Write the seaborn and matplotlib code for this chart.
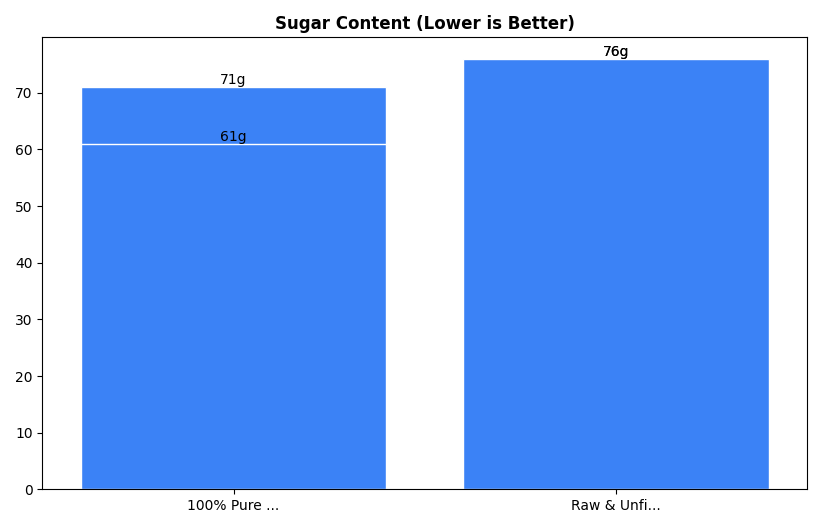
import matplotlib
matplotlib.use("Agg")
import matplotlib.pyplot as plt
import seaborn as sns
import pandas as pd

categories = ["100% Pure ...", "Raw & Unfi..."]
layer1 = [71, 76]
layer2 = [61, 76]

fig, ax = plt.subplots(figsize=(8.22, 5.28), dpi=100)
for vals in (layer1, layer2):
    df = pd.DataFrame({"cat": categories, "val": vals})
    sns.barplot(data=df, x="cat", y="val", color="#3b82f6", saturation=1,
                edgecolor="white", linewidth=1, width=0.8, ax=ax, errorbar=None)
    for i, v in enumerate(vals):
        ax.text(i, v, f"{v}g", ha="center", va="bottom", fontsize=10)
ax.set_title("Sugar Content (Lower is Better)", fontweight="bold")
ax.set_xlabel("")
ax.set_ylabel("")
plt.tight_layout()
fig.savefig("out.png", dpi=100)
